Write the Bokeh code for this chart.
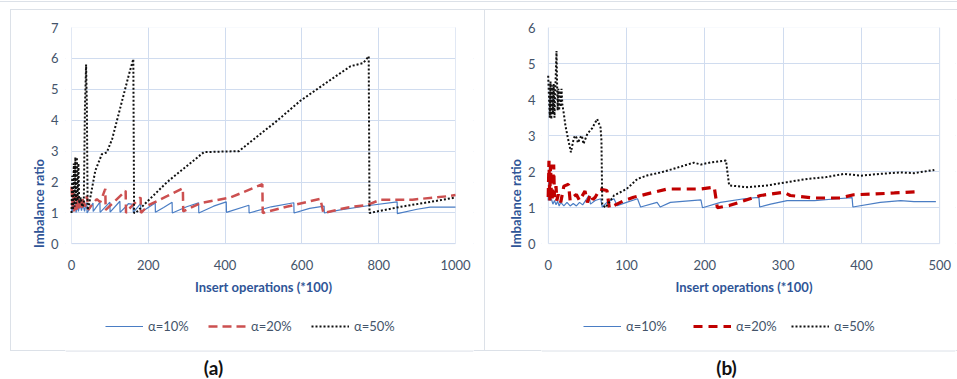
from bokeh.plotting import figure
from bokeh.models import Legend, LegendItem, Label, BoxAnnotation, Span, FixedTicker, Range1d
from bokeh.layouts import row
from bokeh.embed import file_html
from bokeh.resources import INLINE

# ---------------- data: panel (a) ----------------
a_x_10 = [0, 2, 4, 6, 8, 10, 12, 15, 18, 22, 26, 30, 34, 38, 40, 40.5, 56, 56.5, 74, 74.5, 100, 100.5,
          126, 126.5, 145, 148, 160, 161, 180, 180.5, 200, 218, 218.5, 240, 262, 262.5, 300, 331, 331.5,
          370, 403, 403.5, 462, 462.5, 520, 579, 579.5, 620, 658, 658.5, 700, 780, 848, 848.5, 900, 934, 1000]
a_y_10 = [1.00, 1.30, 1.05, 1.35, 1.10, 1.25, 1.02, 1.30, 1.05, 1.30, 1.08, 1.28, 1.05, 1.32, 1.30, 1.00, 1.32, 1.05,
          1.35, 1.02, 1.35, 1.03, 1.38, 1.02, 1.25, 1.30, 1.28, 1.02, 1.30, 1.02, 1.18, 1.32, 1.02, 1.18, 1.35, 1.00,
          1.20, 1.33, 1.00, 1.22, 1.36, 1.02, 1.25, 1.00, 1.20, 1.33, 1.00, 1.15, 1.22, 1.00, 1.10, 1.25, 1.36, 0.98,
          1.12, 1.19, 1.19]

a_x_20 = [0, 3, 5, 7, 10, 13, 16, 19, 22, 26, 30, 35, 40, 44, 55, 66, 75, 88, 89, 110, 141, 142, 155, 180, 181,
          200, 250, 290, 291, 336, 414, 497, 498, 560, 648, 656, 720, 770, 805, 888, 978, 1000]
a_y_20 = [1.85, 1.20, 1.75, 1.05, 1.60, 1.10, 1.55, 1.15, 1.45, 1.10, 1.50, 1.20, 1.55, 1.10, 1.30, 1.45, 1.35,
          1.78, 1.10, 1.35, 1.72, 1.00, 1.20, 1.50, 1.00, 1.25, 1.55, 1.80, 1.05, 1.32, 1.50, 1.93, 1.00, 1.20,
          1.46, 1.00, 1.18, 1.26, 1.43, 1.43, 1.54, 1.58]

a_x_50 = [0, 2, 4, 6, 8, 10, 12, 14, 16, 18, 20, 24, 28, 32, 35, 38, 40, 42, 46, 62, 79, 92, 106, 150, 161,
          163, 167, 249, 345, 436, 535, 596, 683, 727, 760, 774, 776, 857, 935, 1000]
a_y_50 = [1.0, 2.2, 1.1, 2.6, 1.2, 2.8, 1.3, 2.8, 1.4, 2.6, 1.3, 1.5, 1.2, 1.3, 4.4, 5.8, 4.5, 1.1, 1.3, 2.37,
          2.9, 2.96, 3.4, 5.5, 5.98, 1.0, 1.0, 2.0, 2.97, 3.0, 3.98, 4.63, 5.38, 5.75, 5.85, 6.07, 1.0, 1.2,
          1.36, 1.5]

# ---------------- data: panel (b) ----------------
b_x_10 = [0, 1, 2, 4, 6, 8, 10, 12, 14, 16, 20, 24, 28, 32, 36, 40, 44, 52, 54, 60, 67, 69, 75, 84, 88, 100,
          114, 118, 139, 143, 156, 195, 197, 220, 250, 269, 270, 284, 305, 340, 369, 388, 389, 424, 450, 467, 495]
b_y_10 = [1.20, 1.95, 1.20, 1.25, 1.10, 1.20, 1.08, 1.18, 1.05, 1.15, 1.05, 1.15, 1.05, 1.12, 1.05, 1.15, 1.08,
          1.34, 1.10, 1.20, 1.25, 1.02, 1.15, 1.25, 1.06, 1.15, 1.25, 1.02, 1.15, 1.02, 1.15, 1.22, 1.00, 1.15,
          1.25, 1.29, 1.02, 1.10, 1.20, 1.20, 1.25, 1.28, 1.02, 1.15, 1.20, 1.17, 1.17]

b_x_20 = [0, 1, 2, 3, 4, 5, 7, 8, 10, 11, 13, 16, 20, 26, 28, 32, 36, 40, 47, 50, 54, 57, 60, 66, 75, 78, 84,
          97, 109, 135, 152, 195, 212, 216, 231, 271, 301, 309, 339, 373, 390, 416, 442, 474]
b_y_20 = [1.30, 2.30, 1.20, 2.20, 1.40, 1.20, 2.20, 1.30, 1.60, 1.20, 1.37, 1.15, 1.60, 1.65, 1.20, 1.30, 1.37,
          1.20, 1.46, 1.15, 1.38, 1.23, 1.29, 1.52, 1.48, 1.00, 1.06, 1.20, 1.29, 1.43, 1.52, 1.52, 1.57, 1.00,
          1.06, 1.34, 1.43, 1.34, 1.27, 1.27, 1.36, 1.38, 1.41, 1.45]

b_x_50 = [0, 2, 3, 4, 5, 6, 7, 8, 9, 10.6, 12, 13, 14, 15, 16, 17, 18, 20, 22, 25, 29, 32, 34, 36, 38, 41, 43,
          45, 50, 56, 62.5, 66.8, 68, 69, 73, 84, 100, 114, 127, 144, 160, 178, 186, 195, 208, 227, 231, 254,
          280, 305, 331, 355, 378, 399, 424, 450, 467, 493]
b_y_50 = [4.66, 3.50, 4.50, 3.46, 4.40, 3.60, 4.43, 3.50, 4.20, 5.35, 3.70, 4.30, 3.70, 4.25, 3.80, 4.30, 3.88,
          3.60, 3.28, 2.95, 2.54, 2.86, 3.00, 2.95, 2.80, 2.95, 3.00, 2.77, 3.05, 3.20, 3.46, 3.23, 2.86, 1.10,
          1.00, 1.34, 1.52, 1.80, 1.90, 1.98, 2.08, 2.20, 2.25, 2.20, 2.26, 2.31, 1.62, 1.57, 1.62, 1.71, 1.80,
          1.85, 1.94, 1.89, 1.94, 1.98, 1.96, 2.05]

series_labels = ["α=10%", "α=20%", "α=50%"]
a_ticks_x = [0, 200, 400, 600, 800, 1000]
a_ticks_y = [0, 1, 2, 3, 4, 5, 6, 7]
b_ticks_x = [0, 100, 200, 300, 400, 500]
b_ticks_y = [0, 1, 2, 3, 4, 5, 6]

FONT = "Lato"
TICK_COLOR = "#44546A"
TITLE_COLOR = "#2F5597"
GRID = "#D0DCEF"
BOX = "#DCE1E8"
H = 379


def css_lines(lines):
    imgs, sizes, poss = [], [], []
    for (x, y, w, h) in lines:
        imgs.append(f"linear-gradient({BOX},{BOX})")
        sizes.append(f"{w}px {h}px")
        poss.append(f"{x}px {y}px")
    return {"background-image": ", ".join(imgs), "background-size": ", ".join(sizes),
            "background-position": ", ".join(poss), "background-repeat": "no-repeat",
            "background-color": "white"}


def make_panel(width, geom, xs, ys, xt, yt, xmax, ymax, red_color, red_width, red_dash,
               leg_offsets, letter, letter_x, lines, ystand):
    # geom: pixel positions of x=0, x=xmax, frame left/right, y=ymax (top), y=0
    x0_px, xm_px, fl, fr, top_px, zero_px = geom
    xs_scale = (xm_px - x0_px) / xmax
    xlo = -(x0_px - fl) / xs_scale
    xhi = xmax + (fr - xm_px) / xs_scale
    scale = (zero_px - top_px) / ymax
    ymin = -(H - zero_px) / scale
    p = figure(width=width, height=H, output_backend="svg", toolbar_location=None,
               x_range=Range1d(xlo, xhi), y_range=Range1d(ymin, ymax),
               min_border_left=fl, min_border_right=width - fr, min_border_top=top_px, min_border_bottom=0)
    p.outline_line_color = None
    p.background_fill_color = "white"
    p.border_fill_color = None
    p.styles = css_lines(lines)
    for ax in (p.xaxis[0], p.yaxis[0]):
        ax.axis_line_color = None
        ax.major_tick_line_color = None
        ax.minor_tick_line_color = None
        ax.major_label_text_font = FONT
        ax.major_label_text_font_size = "13px"
        ax.major_label_text_color = TICK_COLOR
        ax.axis_label_text_font = FONT
        ax.axis_label_text_font_size = "13px"
        ax.axis_label_text_font_style = "bold"
        ax.axis_label_text_color = TITLE_COLOR
    p.xaxis.ticker = FixedTicker(ticks=xt)
    p.yaxis.ticker = FixedTicker(ticks=yt)
    p.yaxis.bounds = (0, ymax)
    p.xaxis.bounds = (0, xmax)
    p.xaxis.fixed_location = 0
    p.xaxis.axis_label = "Insert operations (*100)"
    p.yaxis.axis_label = "Imbalance ratio"
    p.xaxis.major_label_standoff = 10
    p.xaxis.axis_label_standoff = 6
    p.yaxis.major_label_standoff = ystand
    p.yaxis.axis_label_standoff = 1
    p.xgrid.grid_line_color = GRID
    p.ygrid.grid_line_color = GRID

    # keep the grid inside the plot area, redraw the panel bottom line, outline the plot area
    for kw in (dict(top=0), dict(right=0), dict(left=xmax)):
        p.add_layout(BoxAnnotation(fill_color="white", fill_alpha=1, line_color=None, level="underlay", **kw))
    p.add_layout(Span(location=-(350.5 - zero_px) / scale, dimension="width", line_color=BOX,
                      line_width=1, level="underlay"))
    p.add_layout(BoxAnnotation(left=0, right=xmax, bottom=0, top=ymax, fill_alpha=0, line_color=GRID,
                               line_width=1, level="underlay"))

    r1 = p.line(xs[0], ys[0], line_color="#4A7DC4", line_width=1.2)
    r2 = p.line(xs[1], ys[1], line_color=red_color, line_width=red_width, line_dash=red_dash)
    r3 = p.line(xs[2], ys[2], line_color="#111111", line_width=2, line_dash="2 2")

    for r, lab, off in zip((r1, r2, r3), series_labels, leg_offsets):
        leg = Legend(items=[LegendItem(label=lab, renderers=[r])], location=(off - fl, 45),
                     orientation="horizontal", glyph_width=38, glyph_height=14, label_height=14,
                     label_standoff=5, padding=0, margin=0, border_line_color=None,
                     background_fill_alpha=0, label_text_font=FONT, label_text_font_size="13px",
                     label_text_color=TICK_COLOR)
        p.add_layout(leg)

    p.add_layout(Label(x=letter_x - fl, y=12, x_units="screen", y_units="screen", text=letter,
                       text_align="center", text_baseline="middle", text_font=FONT,
                       text_font_size="19px", text_font_style="bold", text_color="#111111"))
    return p


# panel (a): page x 0..485 ; panel (b): page x 485..957 (figure coordinates below)
pa = make_panel(485, (71, 455, 65, 473, 26, 243), (a_x_10, a_x_20, a_x_50), (a_y_10, a_y_20, a_y_50),
                a_ticks_x, a_ticks_y, 1000, 7, "#CC5050", 2.5, "9 5", (105, 208, 311), "(a)", 213,
                [(0, 1, 485, 1), (10, 9, 475, 1), (10, 350, 475, 1), (10, 9, 1, 342), (484, 9, 1, 342)], 1)
pb = make_panel(472, (62.7, 454.3, 56, 470, 27, 243.3), (b_x_10, b_x_20, b_x_50), (b_y_10, b_y_20, b_y_50),
                b_ticks_x, b_ticks_y, 500, 6, "#C00000", 3.2, "9 6", (98, 208, 306), "(b)", 241,
                [(0, 1, 472, 1), (0, 9, 472, 1), (0, 350, 472, 1)], 0)

layout = row(pa, pb)
open("out.html", "w").write(file_html(layout, INLINE))
